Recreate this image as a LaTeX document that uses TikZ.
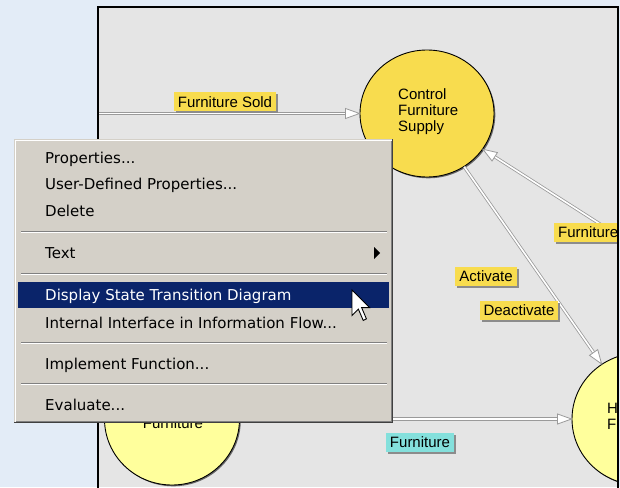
\documentclass[tikz,border=0pt]{standalone}
\usepackage{fontspec}
\setmainfont{Liberation Sans}
\newfontfamily\menufont{DejaVu Sans}
\usetikzlibrary{shapes.geometric,shadows,decorations.markings,calc}
\definecolor{bgblue}{HTML}{E3ECF7}
\definecolor{canvasgray}{HTML}{E5E5E5}
\definecolor{goldfill}{HTML}{F8DC4E}
\definecolor{palefill}{HTML}{FFFF9C}
\definecolor{cyanfill}{HTML}{84E0DC}
\definecolor{menugray}{HTML}{D4D0C8}
\definecolor{menudark}{HTML}{404040}
\definecolor{menumid}{HTML}{808080}
\definecolor{hilite}{HTML}{0A246A}
\definecolor{flowgray}{HTML}{9A9A9A}
\tikzset{
  bubble/.style={ellipse, draw=black, line width=0.9pt, inner sep=0pt,
    drop shadow={shadow xshift=1.3pt, shadow yshift=-1.3pt, fill=black!60, opacity=1}},
  bubbletext/.style={font=\fontsize{15}{16}\selectfont, align=left, inner sep=0pt},
  flowlabel/.style={fill=goldfill, font=\fontsize{15}{17}\selectfont, inner xsep=4pt, inner ysep=0pt,
    minimum height=19pt, text height=11pt, text depth=0pt,
    drop shadow={shadow xshift=2pt, shadow yshift=-2pt, fill=black!45, opacity=1}},
  flowline/.style={draw=flowgray, line width=0.8pt, double=white, double distance=1.6pt,
    shorten >=6pt, postaction={decorate},
    decoration={markings, mark=at position 1 with {\draw[flowgray, fill=white, line width=0.8pt]
      (0pt,0pt) -- (-14pt,5pt) -- (-14pt,-5pt) -- cycle;}}},
  menuitem/.style={anchor=base west, inner sep=0pt, font=\menufont\fontsize{15}{18}\selectfont},
  menusep/.style={menumid, line width=1pt},
  menusephi/.style={white, line width=1pt},
}
\begin{document}
\begin{tikzpicture}[x=1pt,y=-1pt]
\useasboundingbox (0,0) rectangle (620,487);
\fill[bgblue] (0,0) rectangle (620,487);
% canvas
\fill[canvasgray] (98,7) rectangle (618,487);
\begin{scope}
\clip (98,7) rectangle (618,487);
% bubbles
\node[bubble, fill=goldfill, minimum width=134pt, minimum height=127pt] (cfs) at (427,113.5) {};
\node[bubbletext, anchor=base west] (cfst) at (398,131) {Control\\Furniture\\Supply};
\node[bubble, fill=palefill, minimum width=135pt, minimum height=132pt] (sell) at (172,419) {};
\node[bubbletext, anchor=base] (sellt) at (173,428) {Furniture};
\node[bubble, fill=palefill, minimum width=136pt, minimum height=132pt] (hf) at (640,419) {};
\node[bubbletext, anchor=base west] (hft1) at (607,413) {H};
\node[bubbletext, anchor=base west] (hft2) at (607,429) {F};
% free ends
\coordinate (fsin) at (80,113.5);
\coordinate (fin) at (650,256);
% flows
\draw[flowline] (fsin) -- (cfs);
\draw[flowline] (fin) -- (cfs);
\draw[flowline] (cfs) -- (hf);
\draw[flowline] (sell) -- (hf);
% labels
\node[flowlabel] (lsold) at (225,101.5) {Furniture Sold};
\node[flowlabel] (lact) at (486,276) {Activate};
\node[flowlabel] (ldeact) at (519,310) {Deactivate};
\node[flowlabel, anchor=west] (lfurn) at (554,232) {Furniture};
\node[flowlabel, fill=cyanfill] (lfcyan) at (420,442) {Furniture};
\end{scope}
\draw[black, line width=1.5pt] (98,490) -- (98,7) -- (618,7) -- (618,490);
% context menu
\fill[menugray] (14,139) rectangle (393,423);
\draw[white, line width=1pt] (15.5,421.5) -- (15.5,140.5) -- (391.5,140.5);
\draw[menumid, line width=1pt] (15.5,421.5) -- (391.5,421.5) -- (391.5,140.5);
\draw[menudark, line width=1.2pt] (14,422.5) -- (392.5,422.5) -- (392.5,139);
\draw[menusep] (21,231) -- (387,231); \draw[menusephi] (21,232) -- (387,232);
\draw[menusep] (21,273) -- (387,273); \draw[menusephi] (21,274) -- (387,274);
\draw[menusep] (21,342) -- (387,342); \draw[menusephi] (21,343) -- (387,343);
\draw[menusep] (21,383) -- (387,383); \draw[menusephi] (21,384) -- (387,384);
\fill[hilite] (18,282) rectangle (389,308);
\node[menuitem] (m1) at (45,163) {Properties...};
\node[menuitem] (m2) at (45,189) {User-Defined Properties...};
\node[menuitem] (m3) at (45,216) {Delete};
\node[menuitem] (m4) at (45,258) {Text};
\fill[black] (374,247) -- (380,253) -- (374,259) -- cycle;
\node[menuitem, text=white] (m5) at (45,300) {Display State Transition Diagram};
\node[menuitem] (m6) at (45,328) {Internal Interface in Information Flow...};
\node[menuitem] (m7) at (45,369) {Implement Function...};
\node[menuitem] (m8) at (45,410) {Evaluate...};
% mouse cursor
\draw[black, fill=white, line width=0.9pt, line join=miter, shift={(352,290)}]
  (0,0) -- (0,25.6) -- (6.4,19.2) -- (11.2,30.4) -- (14.4,28.8) -- (9.6,17.6) -- (17.6,17.6) -- cycle;
\end{tikzpicture}
\end{document}
